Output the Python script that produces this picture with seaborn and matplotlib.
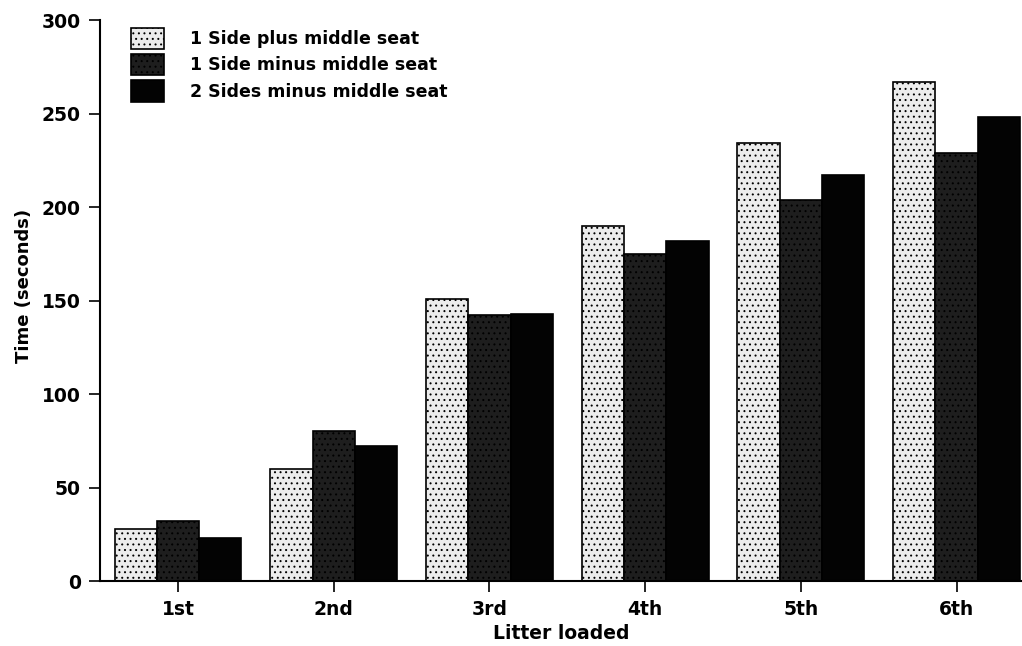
import matplotlib
matplotlib.use("Agg")
import matplotlib.pyplot as plt
import seaborn as sns
import pandas as pd
from matplotlib.patches import Patch

litters = ["1st", "2nd", "3rd", "4th", "5th", "6th"]
series_names = ["1 Side plus middle seat", "1 Side minus middle seat", "2 Sides minus middle seat"]
plus_middle = [28, 60, 151, 190, 234, 267]
minus_middle_1side = [32, 80, 142, 175, 204, 229]
minus_middle_2sides = [23, 72, 143, 182, 217, 248]
y_ticks = [0, 50, 100, 150, 200, 250, 300]

colors = ["#ececec", "#1e1e1e", "#030303"]
hatches = ["...", "...", None]

rows = []
for name, vals in zip(series_names, [plus_middle, minus_middle_1side, minus_middle_2sides]):
    for lit, v in zip(litters, vals):
        rows.append({"Litter loaded": lit, "Time (seconds)": v, "Config": name})
df = pd.DataFrame(rows)

sns.set_theme(style="white")
plt.rcParams["font.family"] = ["DejaVu Sans"]
plt.rcParams["font.weight"] = "bold"
plt.rcParams["text.color"] = "black"
plt.rcParams["axes.labelcolor"] = "black"
plt.rcParams["xtick.color"] = "black"
plt.rcParams["ytick.color"] = "black"
plt.rcParams["hatch.color"] = "#8c8c8c"
plt.rcParams["hatch.linewidth"] = 0.7

fig = plt.figure(figsize=(10.22, 6.46), dpi=100)
ax = fig.add_axes([0.098, 0.1006, 0.902, 0.8684])

sns.barplot(data=df, x="Litter loaded", y="Time (seconds)", hue="Config",
            order=litters, hue_order=series_names, palette=colors,
            width=0.815, gap=0, edgecolor="black", linewidth=1.2,
            saturation=1, ax=ax, legend=False)

for i, container in enumerate(ax.containers):
    for bar in container:
        if hatches[i]:
            bar.set_hatch(hatches[i])
        bar.set_edgecolor("black")

ax.set_ylim(0, 300)
ax.set_xlim(-0.5, 5.42)
ax.set_yticks(y_ticks)
ax.set_yticklabels([str(t) for t in y_ticks], fontsize=13.5, fontweight="bold")
ax.set_xticklabels(litters, fontsize=13.5, fontweight="bold")
ax.tick_params(axis="both", direction="out", length=8, width=1.2, color="black",
               labelcolor="black", left=True, bottom=True, pad=6)
ax.set_xlabel("Litter loaded", fontsize=13.5, fontweight="bold", labelpad=3)
ax.set_ylabel("Time (seconds)", fontsize=13, fontweight="bold")
ax.yaxis.set_label_coords(-0.073, 0.526)

for s in ["top", "right"]:
    ax.spines[s].set_visible(False)
for s in ["left", "bottom"]:
    ax.spines[s].set_color("black")
    ax.spines[s].set_linewidth(1.5)

handles = [Patch(facecolor=c, edgecolor="black", hatch=h, linewidth=1.2)
           for c, h in zip(colors, hatches)]
leg = ax.legend(handles, series_names, loc="upper left", bbox_to_anchor=(0.02, 1.008),
                frameon=False, fontsize=12.5, handlelength=1.9, handleheight=1.5,
                handletextpad=1.5, labelspacing=0.3, borderaxespad=0.3)
for t in leg.get_texts():
    t.set_fontweight("bold")
    t.set_color("black")

fig.savefig("out.png", dpi=100)
